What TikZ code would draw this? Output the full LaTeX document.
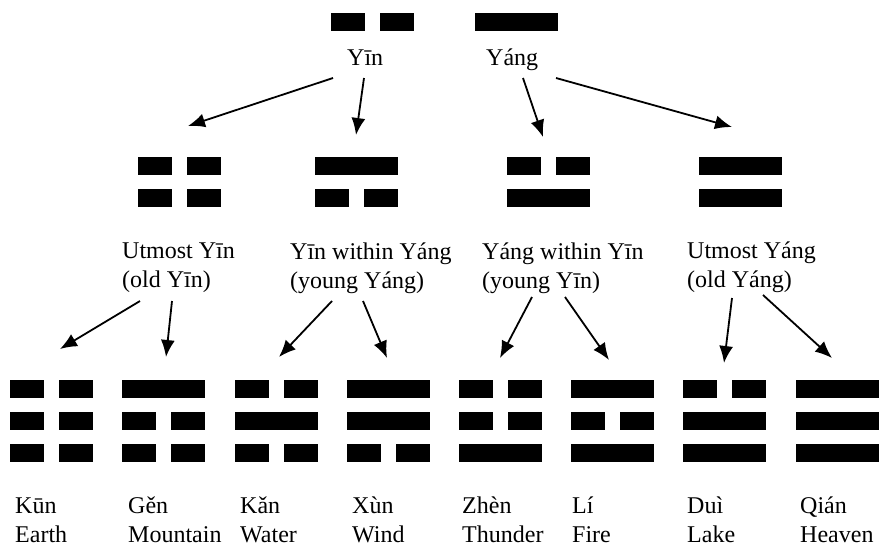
\documentclass[tikz,border=0pt]{standalone}
\usepackage{fontspec}
\setmainfont{Liberation Serif}
\usetikzlibrary{arrows.meta}

% one line of a figure: yang is whole, yin is broken
\newcommand{\yangline}[2]{\fill (#1,#2) rectangle ++(83,18);}
\newcommand{\yinline}[2]{\fill (#1,#2) rectangle ++(34,18); \fill (#1+49,#2) rectangle ++(34,18);}
% lines from top to bottom, 1 = yang, 0 = yin
\newcommand{\gua}[3]{\foreach \l [count=\i from 0] in {#3} {\ifnum\l=1 \yangline{#1}{#2+32*\i}\else\yinline{#1}{#2+32*\i}\fi}}

\begin{document}
\begin{tikzpicture}[x=1pt,y=-1pt,>/.tip={Latex[length=17pt,width=14pt]},
	lbl/.style={anchor=base west,inner sep=0pt,align=left,font=\fontsize{24}{29}\selectfont},
	every edge/.style={draw,line width=1.8pt}]
	\useasboundingbox (0,0) rectangle (883,546);
	% first level
	\yinline{331}{13}
	\yangline{475}{13}
	\node (yin) [lbl] at (347,65) {Yīn};
	\node (yang) [lbl] at (486,65) {Yáng};
	% second level (base is the last line)
	\gua{138}{157}{0,0}
	\gua{315}{157}{1,0}
	\gua{507}{157}{0,1}
	\gua{699}{157}{1,1}
	\node (uyin) [lbl] at (122,287) {Utmost Yīn\\(old Yīn)};
	\node (yinyang) [lbl] at (290,288) {Yīn within Yáng\\(young Yáng)};
	\node (yangyin) [lbl] at (482,288) {Yáng within Yīn\\(young Yīn)};
	\node (uyang) [lbl] at (687,287) {Utmost Yáng\\(old Yáng)};
	% third level
	\gua{10}{380}{0,0,0}
	\gua{122}{380}{1,0,0}
	\gua{235}{380}{0,1,0}
	\gua{347}{380}{1,1,0}
	\gua{459}{380}{0,0,1}
	\gua{571}{380}{1,0,1}
	\gua{683}{380}{0,1,1}
	\gua{796}{380}{1,1,1}
	\node (kun) [lbl] at (15,542) {Kūn\\Earth};
	\node (gen) [lbl] at (128,542) {Gěn\\Mountain};
	\node (kan) [lbl] at (240,542) {Kǎn\\Water};
	\node (xun) [lbl] at (352,542) {Xùn\\Wind};
	\node (zhen) [lbl] at (462,542) {Zhèn\\Thunder};
	\node (li) [lbl] at (572,542) {Lí\\Fire};
	\node (dui) [lbl] at (687,542) {Duì\\Lake};
	\node (qian) [lbl] at (800,542) {Qián\\Heaven};
	% arrow ends
	\coordinate (yin-a) at (333,78);
	\coordinate (yin-b) at (364,78);
	\coordinate (yang-a) at (523,78);
	\coordinate (yang-b) at (556,78);
	\coordinate (uyin-in) at (188,126);
	\coordinate (yinyang-in) at (356,135);
	\coordinate (yangyin-in) at (543,137);
	\coordinate (uyang-in) at (732,127);
	\coordinate (uyin-a) at (140,301);
	\coordinate (uyin-b) at (172,301);
	\coordinate (yinyang-a) at (332,301);
	\coordinate (yinyang-b) at (363,301);
	\coordinate (yangyin-a) at (532,297);
	\coordinate (yangyin-b) at (565,297);
	\coordinate (uyang-a) at (732,298);
	\coordinate (uyang-b) at (763,295);
	\coordinate (kun-in) at (60,349);
	\coordinate (gen-in) at (166,357);
	\coordinate (kan-in) at (279,357);
	\coordinate (xun-in) at (387,358);
	\coordinate (zhen-in) at (500,358);
	\coordinate (li-in) at (609,360);
	\coordinate (dui-in) at (724,363);
	\coordinate (qian-in) at (832,358);
	\path[->] (yin-a) edge (uyin-in);
	\path[->] (yin-b) edge (yinyang-in);
	\path[->] (yang-a) edge (yangyin-in);
	\path[->] (yang-b) edge (uyang-in);
	\path[->] (uyin-a) edge (kun-in);
	\path[->] (uyin-b) edge (gen-in);
	\path[->] (yinyang-a) edge (kan-in);
	\path[->] (yinyang-b) edge (xun-in);
	\path[->] (yangyin-a) edge (zhen-in);
	\path[->] (yangyin-b) edge (li-in);
	\path[->] (uyang-a) edge (dui-in);
	\path[->] (uyang-b) edge (qian-in);
\end{tikzpicture}
\end{document}
